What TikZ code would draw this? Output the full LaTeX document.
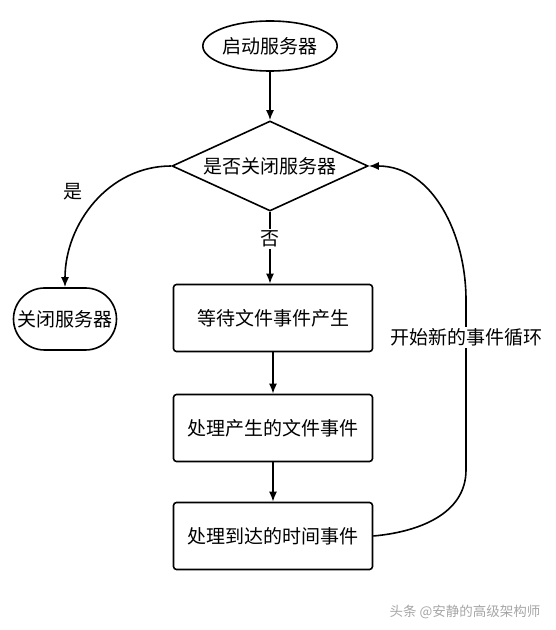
\documentclass[tikz,border=0pt]{standalone}
\usepackage{fontspec}
\newfontfamily\cjk{Noto Sans CJK SC}
\usetikzlibrary{shapes.geometric,shapes.misc,arrows.meta}
\tikzset{>={Latex[length=10pt,width=8pt]}}
\tikzset{
  every node/.style={font=\cjk\fontsize{19}{21}\selectfont, inner sep=0pt},
  startstop/.style={draw, ellipse, minimum width=126pt, minimum height=50pt},
  endstop/.style={draw, rounded rectangle, minimum width=103pt, minimum height=62pt},
  decision/.style={draw, diamond, aspect=2.2, minimum width=196pt, minimum height=90pt},
  process/.style={draw, rectangle, rounded corners=3pt, minimum width=199pt, minimum height=67pt},
  tag/.style={fill=white, inner sep=2pt}
}

\begin{document}
\begin{tikzpicture}[x=1pt,y=1pt,line width=1.6pt]
  \useasboundingbox (0,0) rectangle (556,630);
  \node[startstop] (start) at (270,584) {启动服务器};
  \node[decision] (close) at (270,464) {是否关闭服务器};
  \node[endstop] (stop) at (65,311) {关闭服务器};
  \node[process] (wait) at (273,312) {等待文件事件产生};
  \node[process] (fileev) at (273,202) {处理产生的文件事件};
  \node[process] (timeev) at (273,94) {处理到达的时间事件};

  \draw[->] (start) -- (close);
  \draw[->] (close.south) -- node[tag, pos=0.38] {否} (close.south |- wait.north);
  \draw[->] (close.west) to[out=180,in=90]
    node[pos=0.4, above left, xshift=-23pt, yshift=-10pt] {是} (stop.north);
  \draw[->] (wait) -- (fileev);
  \draw[->] (fileev) -- (timeev);
  % back to the test
  \draw[->] (timeev.east) to[out=5,in=-90] (466,160)
    -- node[tag, pos=0.78] {开始新的事件循环} (466,330)
    to[out=90,in=0] (close.east);

  \node[text=gray!70, font=\cjk\fontsize{13.5}{15}\selectfont] (mark) at (465,18) {头条 @安静的高级架构师};
\end{tikzpicture}
\end{document}
